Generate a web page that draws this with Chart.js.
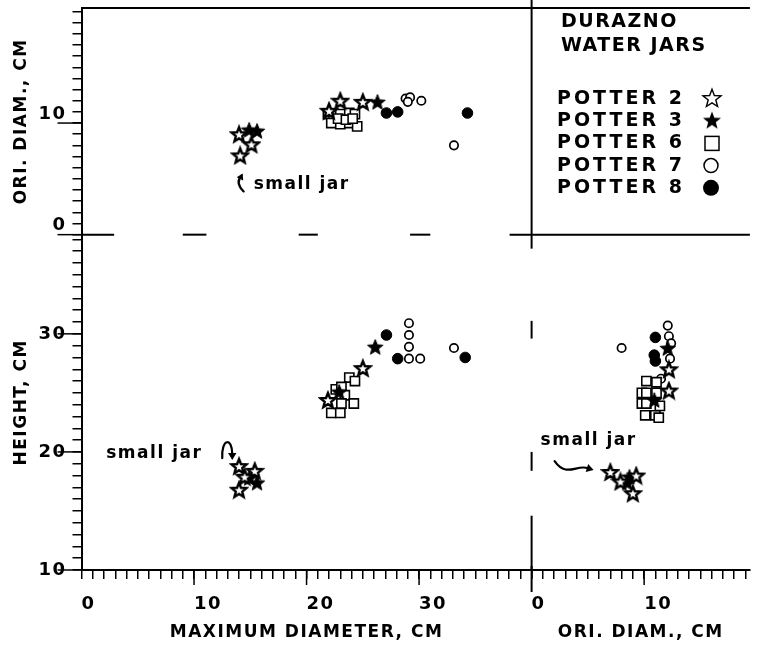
<!DOCTYPE html>
<html lang="en">
<head>
<meta charset="UTF-8" />
<title>Durazno Water Jars</title>
<style>
  * {margin:0; padding:0; box-sizing:border-box;}
  body {background:#fff; width:758px; height:645px; overflow:hidden;}
  #jars {display:block;}
</style>
</head>
<body>
<canvas id="jars" width="758" height="645"></canvas>
<script src="https://cdn.jsdelivr.net/npm/chart.js"></script>
<script>
  // upper panel: [maximum diameter, orifice diameter], cm
  const p2Ori = [[14.0, 9.0], [15.1, 8.1], [14.1, 7.1], [23.0, 12.0], [22.0, 11.1], [25.0, 11.9]];
  const p3Ori = [[14.9, 9.4], [15.6, 9.3], [26.3, 11.9]];
  const p6Ori = [[21.9, 10.8], [22.4, 10.7], [23.0, 10.8], [23.8, 10.9], [24.3, 10.8], [22.2, 10.0],
                 [23.0, 9.9], [23.8, 10.0], [24.5, 9.7], [22.8, 10.4], [23.5, 10.3], [24.1, 10.4]];
  const p7Ori = [[28.8, 12.2], [29.2, 12.3], [29.0, 11.9], [30.2, 12.0], [33.1, 8.0]];
  const p8Ori = [[27.1, 10.9], [28.1, 11.0], [34.3, 10.9]];

  // lower left: [maximum diameter, height], cm
  const p2Ht = [[14.0, 18.8], [15.4, 18.4], [14.5, 17.9], [14.0, 16.8], [21.9, 24.4], [25.0, 27.1]];
  const p3Ht = [[14.9, 17.8], [15.6, 17.4], [22.9, 25.1], [26.1, 28.9]];
  const p6Ht = [[23.8, 26.3], [24.3, 26.0], [22.6, 25.3], [23.1, 25.5], [23.4, 24.8], [24.2, 24.1],
                [22.2, 23.3], [23.0, 23.3], [23.1, 24.1]];
  const p7Ht = [[29.1, 30.9], [29.1, 29.9], [29.1, 28.9], [29.1, 27.9], [30.1, 27.9], [33.1, 28.8]];
  const p8Ht = [[27.1, 29.9], [28.1, 27.9], [34.1, 28.0]];

  // lower right: [orifice diameter, height], cm
  const p2Rt = [[7.0, 18.3], [7.9, 17.5], [9.3, 18.0], [9.0, 16.5], [12.2, 27.0], [12.2, 25.2]];
  const p3Rt = [[8.7, 17.9], [8.5, 17.4], [12.1, 28.8], [10.9, 24.4]];
  const p6Rt = [[10.2, 26.0], [11.1, 25.9], [9.8, 25.0], [10.2, 25.0], [11.1, 25.0], [9.8, 24.1],
                [10.2, 24.1], [10.1, 23.1], [11.0, 23.1], [11.3, 22.9], [11.4, 23.9]];
  const p7Rt = [[12.1, 30.7], [12.2, 29.8], [12.4, 29.2], [8.0, 28.8], [12.3, 27.9], [11.5, 26.2]];
  const p8Rt = [[11.0, 29.7], [10.9, 28.2], [11.0, 27.7]];

  const potters = ['POTTER 2', 'POTTER 3', 'POTTER 6', 'POTTER 7', 'POTTER 8'];
  const xLeftLabels = [0, 10, 20, 30];
  const xRightLabels = [0, 10];
  const yUpperLabels = [0, 10];
  const yLowerLabels = [10, 20, 30];

  Chart.defaults.font.family = "'DejaVu Sans', sans-serif";
  Chart.defaults.font.weight = 'bold';
  Chart.defaults.color = '#000';

  // five pointed star drawn once into a small canvas, used as pointStyle
  function starIcon(size, outer, inner, fill, line) {
    const c = document.createElement('canvas');
    c.width = c.height = size;
    const g = c.getContext('2d');
    g.beginPath();
    for (let i = 0; i < 10; i++) {
      const r = i % 2 ? inner : outer;
      const a = -Math.PI / 2 + i * Math.PI / 5;
      g.lineTo(size / 2 + r * Math.cos(a), size / 2 + 0.8 + r * Math.sin(a));
    }
    g.closePath();
    g.fillStyle = fill;
    g.fill();
    if (line) { g.lineWidth = line; g.strokeStyle = '#000'; g.stroke(); }
    return c;
  }

  const openStar = starIcon(20, 7.8, 3.4, '#fff', 2.4);
  const solidStar = starIcon(20, 8.1, 3.5, '#000', 1);

  const looks = [
    {pointStyle: openStar, pointRadius: 7},
    {pointStyle: solidStar, pointRadius: 7},
    {pointStyle: 'rect', pointRadius: 6.5, pointBackgroundColor: '#fff', pointBorderColor: '#000', pointBorderWidth: 1.6},
    {pointStyle: 'circle', pointRadius: 4.2, pointBackgroundColor: '#fff', pointBorderColor: '#000', pointBorderWidth: 1.7},
    {pointStyle: 'circle', pointRadius: 5.3, pointBackgroundColor: '#000', pointBorderColor: '#000', pointBorderWidth: 1}
  ];

  const panels = [
    {x: 'xL', y: 'yU', sets: [p2Ori, p3Ori, p6Ori, p7Ori, p8Ori]},
    {x: 'xL', y: 'yL', sets: [p2Ht, p3Ht, p6Ht, p7Ht, p8Ht]},
    {x: 'xR', y: 'yL', sets: [p2Rt, p3Rt, p6Rt, p7Rt, p8Rt]}
  ];

  const datasets = [];
  panels.forEach(p => p.sets.forEach((pts, i) => {
    datasets.push(Object.assign({label: potters[i], data: pts, xAxisID: p.x, yAxisID: p.y}, looks[i]));
  }));

  function noPadding(s) {
    s.paddingTop = s.paddingBottom = s.paddingLeft = s.paddingRight = 0;
  }

  const axisLine = {display: true, color: '#000', width: 2};
  const tickMarks = {drawOnChartArea: false, color: '#000', lineWidth: 1.5, tickLength: 9};

  function yAxis(min, max, weight, labels, title, align) {
    return {
      type: 'linear', position: 'left', stack: 'left', stackWeight: weight, min, max,
      border: axisLine, grid: tickMarks,
      ticks: {
        stepSize: 1, autoSkip: false, includeBounds: false, align, padding: 6,
        font: {size: 18, weight: 'bold'},
        callback: v => labels.includes(v) ? String(v) : ''
      },
      title: {display: true, text: title, font: {size: 17, weight: 'bold'}, padding: {top: 11, bottom: 0}},
      afterFit: s => { s.width = 81.5; noPadding(s); }
    };
  }

  function xAxis(min, max, weight, labels, title) {
    return {
      type: 'linear', position: 'bottom', stack: 'bottom', stackWeight: weight, min, max,
      border: axisLine, grid: tickMarks,
      ticks: {
        stepSize: 1, autoSkip: false, includeBounds: false, align: 'start', padding: 15, maxRotation: 0,
        font: {size: 18, weight: 'bold'},
        callback: v => labels.includes(v) ? String(v) : ''
      },
      title: {display: true, text: title, font: {size: 17, weight: 'bold'}, padding: {top: 0, bottom: 2}},
      afterFit: s => { s.height = 75; noPadding(s); }
    };
  }

  function seg(ctx, x1, y1, x2, y2) {
    ctx.beginPath();
    ctx.moveTo(x1, y1);
    ctx.lineTo(x2, y2);
    ctx.stroke();
  }

  function arrowHead(ctx, x, y, angle, size) {
    ctx.save();
    ctx.translate(x, y);
    ctx.rotate(angle);
    ctx.beginPath();
    ctx.moveTo(0, 0);
    ctx.lineTo(-size, -size * 0.6);
    ctx.lineTo(-size, size * 0.6);
    ctx.closePath();
    ctx.fill();
    ctx.restore();
  }

  // frame, zero line, panel dividers and the longer ticks at labelled values
  const framePlugin = {
    id: 'frame',
    beforeDraw(chart) { chart.ctx.letterSpacing = '1.5px'; },
    afterDraw(chart) {
      const ctx = chart.ctx;
      const {xL, xR, yU, yL} = chart.scales;
      const midX = xL.getPixelForValue(40);
      const midY = yU.getPixelForValue(0);
      ctx.save();
      ctx.strokeStyle = '#000';
      ctx.lineWidth = 2;
      seg(ctx, xL.left, yU.top, xR.right, yU.top);
      seg(ctx, midX, 0, midX, midY + 14);
      seg(ctx, midX - 22, midY, xR.right, midY);
      seg(ctx, midX, yL.bottom - 4, midX, yL.bottom + 22);
      [[0, 2.9], [9, 11.1], [19.3, 21], [29.2, 31]].forEach(([a, b]) =>
        seg(ctx, xL.getPixelForValue(a), midY, xL.getPixelForValue(b), midY));
      [[31.1, 29.6], [20.0, 18.4], [14.6, 10]].forEach(([a, b]) =>
        seg(ctx, midX, yL.getPixelForValue(a), midX, yL.getPixelForValue(b)));
      ctx.lineWidth = 1.5;
      [[yU, yUpperLabels], [yL, yLowerLabels]].forEach(([s, vals]) => vals.forEach(v => {
        const y = s.getPixelForValue(v);
        seg(ctx, s.right - 24, y, s.right, y);
      }));
      [[xL, xLeftLabels.slice(1)], [xR, xRightLabels.slice(1)]].forEach(([s, vals]) => vals.forEach(v => {
        const x = s.getPixelForValue(v);
        seg(ctx, x, s.top, x, s.top + 15);
      }));
      ctx.restore();
    }
  };

  // "small jar" callouts
  const notePlugin = {
    id: 'notes',
    afterDraw(chart) {
      const ctx = chart.ctx;
      const {xL, xR, yU, yL} = chart.scales;
      ctx.save();
      ctx.fillStyle = '#000';
      ctx.strokeStyle = '#000';
      ctx.lineWidth = 2.2;
      ctx.lineCap = 'round';
      ctx.font = "bold 17px 'DejaVu Sans', sans-serif";
      ctx.letterSpacing = '1.5px';
      ctx.textBaseline = 'middle';
      ctx.textAlign = 'left';

      let x = xL.getPixelForValue(15.3), y = yU.getPixelForValue(4.5);
      ctx.fillText('small jar', x, y);
      ctx.beginPath();
      ctx.moveTo(x - 10, y + 7);
      ctx.quadraticCurveTo(x - 19, y - 2, x - 12, y - 9);
      ctx.stroke();
      arrowHead(ctx, x - 11, y - 11, -1.1, 6);

      x = xL.getPixelForValue(2.2); y = yL.getPixelForValue(19.9);
      ctx.fillText('small jar', x, y);
      ctx.beginPath();
      ctx.moveTo(x + 116, y + 5);
      ctx.bezierCurveTo(x + 115, y - 15, x + 126, y - 16, x + 126, y + 1);
      ctx.stroke();
      arrowHead(ctx, x + 126, y + 7, Math.PI / 2, 7);

      x = xR.getPixelForValue(0.8); y = yL.getPixelForValue(21.0);
      ctx.fillText('small jar', x, y);
      ctx.beginPath();
      ctx.moveTo(x + 14, y + 21);
      ctx.bezierCurveTo(x + 26, y + 38, x + 36, y + 24, x + 47, y + 28);
      ctx.stroke();
      arrowHead(ctx, x + 53, y + 30, 0.3, 7);
      ctx.restore();
    }
  };

  // key in the upper right box: text first, symbol after it
  const keyPlugin = {
    id: 'key',
    afterDraw(chart) {
      const ctx = chart.ctx;
      ctx.save();
      ctx.fillStyle = '#000';
      ctx.strokeStyle = '#000';
      ctx.textBaseline = 'middle';
      ctx.textAlign = 'left';
      ctx.font = "bold 19px 'DejaVu Sans', sans-serif";
      ctx.letterSpacing = '1.5px';
      ctx.fillText('DURAZNO', 561, 22);
      ctx.fillText('WATER JARS', 561, 46);
      ctx.letterSpacing = '3px';
      const bigOpen = starIcon(24, 9.5, 4, '#fff', 1.4);
      const bigSolid = starIcon(24, 9.5, 4, '#000', 0);
      potters.forEach((name, i) => {
        const y = 99 + i * 22.2;
        ctx.fillText(name, 557, y);
        const sx = 712;
        ctx.lineWidth = 1.5;
        if (i === 0) ctx.drawImage(bigOpen, sx - 12, y - 13);
        if (i === 1) ctx.drawImage(bigSolid, sx - 12, y - 13);
        if (i === 2) { ctx.fillStyle = '#fff'; ctx.fillRect(sx - 7, y - 7, 14, 14); ctx.strokeRect(sx - 7, y - 7, 14, 14); ctx.fillStyle = '#000'; }
        if (i === 3) { ctx.beginPath(); ctx.arc(sx - 1, y, 7, 0, Math.PI * 2); ctx.stroke(); }
        if (i === 4) { ctx.beginPath(); ctx.arc(sx - 1, y, 8, 0, Math.PI * 2); ctx.fill(); }
      });
      ctx.restore();
    }
  };

  new Chart(document.getElementById('jars'), {
    type: 'scatter',
    data: {datasets},
    options: {
      responsive: false,
      animation: false,
      events: [],
      layout: {padding: {top: 7, right: 0, bottom: 0, left: 0}},
      plugins: {legend: {display: false}, tooltip: {enabled: false}},
      scales: {
        // left boxes are stacked from the last one defined, so the height axis comes first
        yL: yAxis(10, 38.4, 336, yLowerLabels, 'HEIGHT, CM', 'center'),
        yU: yAxis(0, 20.3, 227, yUpperLabels, 'ORI. DIAM., CM', 'end'),
        xL: xAxis(0, 40, 40, xLeftLabels, 'MAXIMUM DIAMETER, CM'),
        xR: xAxis(0, 19.4, 19.4, xRightLabels, 'ORI. DIAM., CM')
      }
    },
    plugins: [framePlugin, notePlugin, keyPlugin]
  });
</script>
</body>
</html>
